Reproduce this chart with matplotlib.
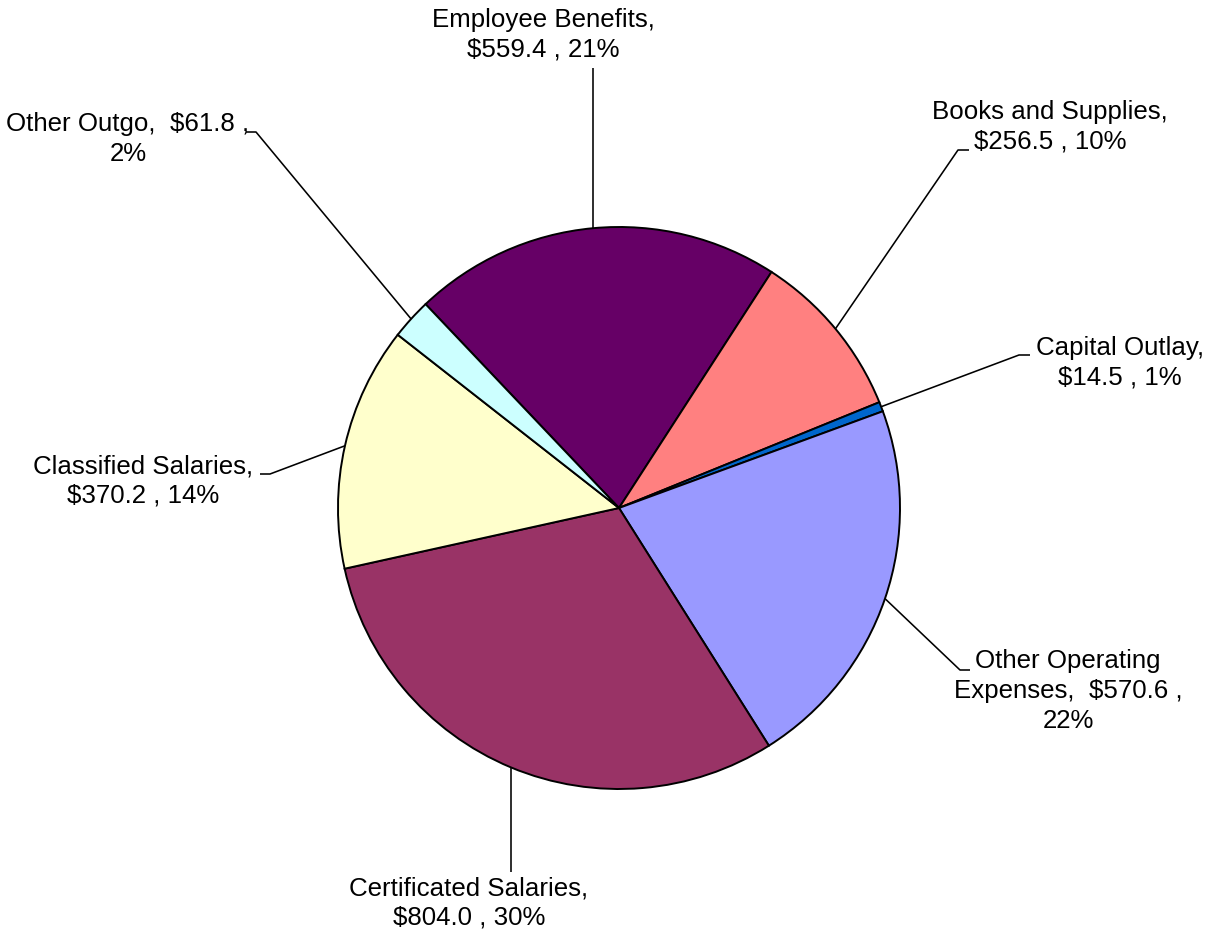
import numpy as np
import matplotlib
matplotlib.use("Agg")
import matplotlib.pyplot as plt

plt.rcParams['font.family'] = ['Liberation Sans', 'DejaVu Sans']

# Expenditure categories (millions), drawn clockwise
categories = ["Employee Benefits", "Books and Supplies", "Capital Outlay",
              "Other Operating Expenses", "Certificated Salaries",
              "Classified Salaries", "Other Outgo"]
values = [559.4, 256.5, 14.5, 570.6, 804.0, 370.2, 61.8]
colors = ["#660066", "#FF8080", "#0066CC", "#9999FF", "#993366",
          "#FFFFCC", "#CCFFFF"]

total = sum(values)
pcts = [v / total * 100 for v in values]

label_texts = [
    "Employee Benefits,\n${:.1f} , {:.0f}%",
    "Books and Supplies,\n${:.1f} , {:.0f}%",
    "Capital Outlay,\n${:.1f} , {:.0f}%",
    "Other Operating\nExpenses,  ${:.1f} ,\n{:.0f}%",
    "Certificated Salaries,\n${:.1f} , {:.0f}%",
    "Classified Salaries,\n${:.1f} , {:.0f}%",
    "Other Outgo,  ${:.1f} ,\n{:.0f}%",
]

W, H = 1212, 935
fig = plt.figure(figsize=(W / 100, H / 100), dpi=100)
ax = fig.add_axes([0, 0, 1, 1])

cx, cy, R = 619, H - 508, 281
wedges, _ = ax.pie(values, colors=colors, startangle=133.5, counterclock=False,
                   center=(cx, cy), radius=R, frame=True,
                   wedgeprops=dict(edgecolor='black', linewidth=1.4))
ax.set_xlim(0, W)
ax.set_ylim(0, H)
ax.set_aspect('equal')
ax.axis('off')

# leader-line bends (None x = straight vertical) and label block centres,
# in pixel coordinates measured from the top-left corner
bends = [
    [(None, 68)],
    [(958, 150), (969, 150)],
    [(1019, 355), (1030, 355)],
    [(960, 670), (970, 670)],
    [(None, 872)],
    [(270, 474), (260, 474)],
    [(256, 132), (246, 132)],
]
text_pos = [(543, 35), (1050, 127), (1120, 363), (1068, 691),
            (469, 903), (143, 481), (128, 139)]

for w, v, p, fmt, bend, tp in zip(wedges, values, pcts, label_texts, bends, text_pos):
    mid = np.deg2rad((w.theta1 + w.theta2) / 2)
    x0, y0 = cx + R * np.cos(mid), cy + R * np.sin(mid)
    xs = [x0] + [x0 if b[0] is None else b[0] for b in bend]
    ys = [y0] + [H - b[1] for b in bend]
    ax.plot(xs, ys, color='black', linewidth=1.15, solid_capstyle='butt')
    ax.text(tp[0], H - tp[1], fmt.format(v, p), ha='center', va='center',
            multialignment='center', fontsize=18.6, linespacing=1.3,
            color='black')

fig.savefig("out.png", dpi=100, facecolor='white')
